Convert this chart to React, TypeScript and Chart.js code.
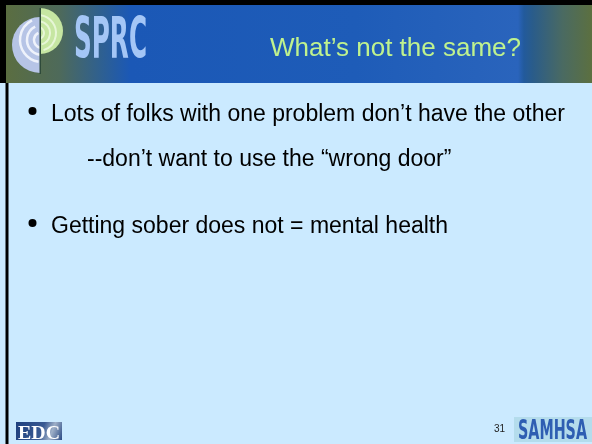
import React, { useEffect, useRef } from "react";
import { Chart, registerables } from "chart.js";

Chart.register(...registerables);

// Slide content
const titleLines: string[] = ["What’s not the same?"];
const bulletLines: string[] = [
  "Lots of folks with one problem don’t have the other",
  "Getting sober does not = mental health",
];
const subLines: string[] = ["--don’t want to use the “wrong door”"];
const slideNumbers: string[] = ["31"];
const logoLabels: string[] = ["SPRC", "EDC", "SAMHSA"];

const W = 592;
const H = 444;

function drawSlide(ctx: CanvasRenderingContext2D) {
  ctx.save();
  // body background
  ctx.fillStyle = "#cbeaff";
  ctx.fillRect(0, 0, W, H);

  // header gradient
  const hg = ctx.createLinearGradient(0, 0, W, 0);
  hg.addColorStop(0, "#5c6e3e");
  hg.addColorStop(0.1, "#4e6a5a");
  hg.addColorStop(0.17, "#2f6090");
  hg.addColorStop(0.22, "#1b58b6");
  hg.addColorStop(0.6, "#1e5cb8");
  hg.addColorStop(0.875, "#2a64bc");
  hg.addColorStop(0.885, "#225a9c");
  hg.addColorStop(0.9, "#2a5c8a");
  hg.addColorStop(0.95, "#4a6a62");
  hg.addColorStop(1, "#5c7040");
  ctx.fillStyle = hg;
  ctx.fillRect(0, 5, W, 78);

  // black borders
  ctx.fillStyle = "#000";
  ctx.fillRect(0, 0, W, 5);
  ctx.fillRect(0, 0, 6, 83);
  ctx.fillRect(5.5, 83, 3, H - 83);

  // globe logo: left half (lavender)
  ctx.save();
  ctx.beginPath();
  ctx.arc(40, 45, 28, Math.PI / 2, (3 * Math.PI) / 2);
  ctx.closePath();
  ctx.fillStyle = "#b6c4e6";
  ctx.fill();
  ctx.clip();
  ctx.strokeStyle = "#eef2fb";
  ctx.lineWidth = 2.5;
  for (const r of [8, 15, 22]) {
    ctx.beginPath();
    ctx.arc(42, 40, r, Math.PI * 0.55, Math.PI * 1.35);
    ctx.stroke();
  }
  ctx.restore();
  // right half (green)
  ctx.save();
  ctx.beginPath();
  ctx.arc(40, 31, 23, -Math.PI / 2, Math.PI / 2);
  ctx.closePath();
  ctx.fillStyle = "#c6e6a2";
  ctx.fill();
  ctx.clip();
  ctx.strokeStyle = "#e6f6d6";
  ctx.lineWidth = 2;
  for (const r of [6, 12, 18]) {
    ctx.beginPath();
    ctx.arc(38, 33, r, -Math.PI * 0.45, Math.PI * 0.4);
    ctx.stroke();
  }
  ctx.restore();
  ctx.fillStyle = "#2e4a3a";
  ctx.fillRect(39.5, 8, 1.5, 66);

  // SPRC wordmark
  ctx.save();
  ctx.fillStyle = "#a4c6f6";
  ctx.font = "bold 57px 'Liberation Sans Narrow', 'DejaVu Sans Condensed', 'Liberation Sans'";
  ctx.textBaseline = "alphabetic";
  const sw = ctx.measureText(logoLabels[0]).width;
  ctx.translate(74, 58);
  ctx.scale(73 / sw, 1);
  ctx.fillText(logoLabels[0], 0, 0);
  ctx.restore();

  // title
  ctx.fillStyle = "#bff28e";
  ctx.font = "26px 'Liberation Sans', Arial, sans-serif";
  ctx.textAlign = "center";
  ctx.textBaseline = "alphabetic";
  ctx.fillText(titleLines[0], 395.5, 56);

  // bullets
  ctx.textAlign = "left";
  ctx.fillStyle = "#000";
  ctx.font = "23px 'Liberation Sans', Arial, sans-serif";
  const bulletY = [121, 233];
  bulletLines.forEach((t, i) => {
    ctx.beginPath();
    ctx.arc(32.5, bulletY[i] - 10, 4, 0, Math.PI * 2);
    ctx.fill();
    ctx.fillText(t, 51, bulletY[i]);
  });
  ctx.fillText(subLines[0], 87, 166);

  // slide number
  ctx.font = "10px 'Liberation Sans', Arial, sans-serif";
  ctx.fillStyle = "#222";
  ctx.fillText(slideNumbers[0], 494, 432);

  // EDC logo
  const eg = ctx.createLinearGradient(16, 422, 62, 440);
  eg.addColorStop(0, "#1e3f7e");
  eg.addColorStop(0.55, "#3a5a92");
  eg.addColorStop(0.75, "#9fb0c8");
  eg.addColorStop(1, "#2a4a84");
  ctx.fillStyle = eg;
  ctx.fillRect(16, 422, 46, 18);
  ctx.save();
  ctx.fillStyle = "#ffffff";
  ctx.font = "bold 19px 'Liberation Serif', 'DejaVu Serif', serif";
  const ew = ctx.measureText(logoLabels[1]).width;
  ctx.translate(18, 439);
  ctx.scale(42 / ew, 1);
  ctx.fillText(logoLabels[1], 0, 0);
  ctx.restore();

  // SAMHSA logo
  ctx.fillStyle = "#b4dcec";
  ctx.fillRect(514, 417, 78, 25);
  ctx.save();
  ctx.fillStyle = "#2e5eb2";
  ctx.font = "bold 26px 'Liberation Sans Narrow', 'DejaVu Sans Condensed', 'Liberation Sans'";
  const mw = ctx.measureText(logoLabels[2]).width;
  ctx.translate(518, 439);
  ctx.scale(69 / mw, 1);
  ctx.fillText(logoLabels[2], 0, 0);
  ctx.restore();

  ctx.restore();
}

export default function App() {
  const canvasRef = useRef<HTMLCanvasElement | null>(null);

  useEffect(() => {
    document.body.style.margin = "0";
    const canvas = canvasRef.current;
    if (!canvas) return;
    const chart = new Chart(canvas, {
      type: "bar",
      data: { labels: [], datasets: [] },
      options: {
        responsive: false,
        animation: false,
        devicePixelRatio: 1,
        layout: { padding: 0 },
        plugins: { legend: { display: false }, tooltip: { enabled: false } },
        scales: { x: { display: false }, y: { display: false } },
      },
      plugins: [
        {
          id: "slide",
          beforeDraw(c: Chart) {
            drawSlide(c.ctx);
          },
        },
      ],
    });
    return () => chart.destroy();
  }, []);

  return (
    <div style={{ width: W, height: H }}>
      <canvas ref={canvasRef} width={W} height={H} style={{ display: "block" }} />
    </div>
  );
}
